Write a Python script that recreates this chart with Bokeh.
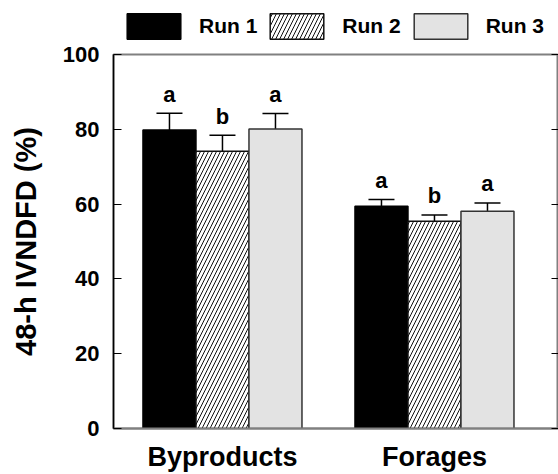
from bokeh.plotting import figure
from bokeh.layouts import column
from bokeh.models import (ColumnDataSource, Whisker, TeeHead, Legend, LegendItem,
                          LinearAxis, FixedTicker, Range1d)
from bokeh.core.properties import value
from bokeh.embed import file_html
from bokeh.resources import INLINE

categories = ["Byproducts", "Forages"]
runs = ["Run 1", "Run 2", "Run 3"]
run1 = [79.8, 59.4]
run2 = [74.1, 55.4]
run3 = [80.1, 58.1]
err1 = [4.5, 1.8]
err2 = [4.3, 1.7]
err3 = [4.1, 2.2]
letters1 = ["a", "a"]
letters2 = ["b", "b"]
letters3 = ["a", "a"]
y_ticks = [0, 20, 40, 60, 80, 100]

FONT = "Liberation Sans"
bar_w = 0.25
offsets = [-bar_w, 0.0, bar_w]
styles = [
    dict(fill_color="black", line_color="black"),
    dict(fill_color="white", line_color="#111111", hatch_pattern="/", hatch_color="#111111",
         hatch_scale=8, hatch_weight=1),
    dict(fill_color="#e3e3e3", line_color="#333333"),
]

p = figure(width=558, height=432, output_backend="svg", toolbar_location=None,
           x_range=Range1d(0.486, 2.585), y_range=Range1d(0, 100),
           min_border_left=113, min_border_top=12, min_border_bottom=45, min_border_right=0)
p.xgrid.visible = False
p.ygrid.visible = False
p.outline_line_color = "#808080"
p.outline_line_width = 2
p.background_fill_color = "white"

# legend strip above the plot (its own bar renderers are hidden; only the legend shows)
lf = figure(width=558, height=42, output_backend="svg", toolbar_location=None,
            x_range=Range1d(0.486, 2.585), y_range=Range1d(0, 100),
            x_axis_type=None, y_axis_type=None,
            min_border=0, outline_line_color=None)
lf.xgrid.visible = False
lf.ygrid.visible = False

xs = [i + 1 for i in range(len(categories))]
items = []
for k, (vals, errs, lets) in enumerate([(run1, err1, letters1), (run2, err2, letters2), (run3, err3, letters3)]):
    src = ColumnDataSource(dict(
        x=[x + offsets[k] for x in xs],
        top=vals,
        upper=[v + e for v, e in zip(vals, errs)],
        lab=lets,
    ))
    p.vbar(x="x", top="top", bottom=0, width=bar_w, source=src, line_width=1.5, **styles[k])
    w = Whisker(base="x", lower="top", upper="upper", source=src, lower_head=None,
                upper_head=TeeHead(size=26, line_color="black", line_width=1.5),
                line_color="black", line_width=1.5)
    p.add_layout(w)
    p.text(x="x", y="upper", text="lab", source=src, text_align="center",
           text_baseline="alphabetic", y_offset=-19, text_font=value(FONT),
           text_font_style="bold", text_font_size="22px", text_color="black")
    r = lf.vbar(x="x", top="top", bottom=0, width=bar_w, source=src, line_width=1.5,
                visible=False, **styles[k])
    items.append(LegendItem(label=runs[k], renderers=[r]))

# axes
p.yaxis.ticker = FixedTicker(ticks=y_ticks)
p.yaxis.axis_label = "48-h IVNDFD (%)"
p.yaxis.axis_label_text_font = FONT
p.yaxis.axis_label_text_font_style = "bold"
p.yaxis.axis_label_text_font_size = "29px"
p.yaxis.axis_label_text_color = "black"
p.yaxis.axis_label_standoff = 18
p.yaxis.major_label_text_font = FONT
p.yaxis.major_label_text_font_style = "bold"
p.yaxis.major_label_text_font_size = "22px"
p.yaxis.major_label_text_color = "black"
p.yaxis.major_label_standoff = 14
p.yaxis.major_tick_in = 8
p.yaxis.major_tick_out = 0
p.yaxis.minor_tick_line_color = None
p.yaxis.axis_line_color = "black"
p.yaxis.axis_line_width = 1.5
p.yaxis.major_tick_line_color = "black"

p.xaxis.ticker = FixedTicker(ticks=xs)
p.xaxis.major_label_overrides = {x: c for x, c in zip(xs, categories)}
p.xaxis.major_label_text_font = FONT
p.xaxis.major_label_text_font_style = "bold"
p.xaxis.major_label_text_font_size = "27px"
p.xaxis.major_label_text_color = "black"
p.xaxis.major_label_standoff = 7
p.xaxis.major_tick_line_color = None
p.xaxis.minor_tick_line_color = None
p.xaxis.axis_line_color = "#808080"
p.xaxis.axis_line_width = 2

ry = LinearAxis(ticker=FixedTicker(ticks=y_ticks),
                major_label_overrides={t: "" for t in y_ticks},
                major_label_standoff=0, major_tick_in=7, major_tick_out=0,
                minor_tick_line_color=None, axis_line_color="#d9d9d9",
                major_tick_line_color="black")
p.add_layout(ry, "right")

legend = Legend(items=items, orientation="horizontal", location=(7, 0),
                glyph_width=67, glyph_height=32, label_standoff=12, spacing=6,
                padding=0, margin=0, border_line_color=None, background_fill_alpha=0,
                click_policy="none", inactive_fill_alpha=0,
                label_text_font=FONT, label_text_font_style="bold",
                label_text_font_size="21px", label_text_color="black")
lf.add_layout(legend)

layout = column(lf, p, spacing=0)
open("out.html", "w").write(file_html(layout, INLINE))
